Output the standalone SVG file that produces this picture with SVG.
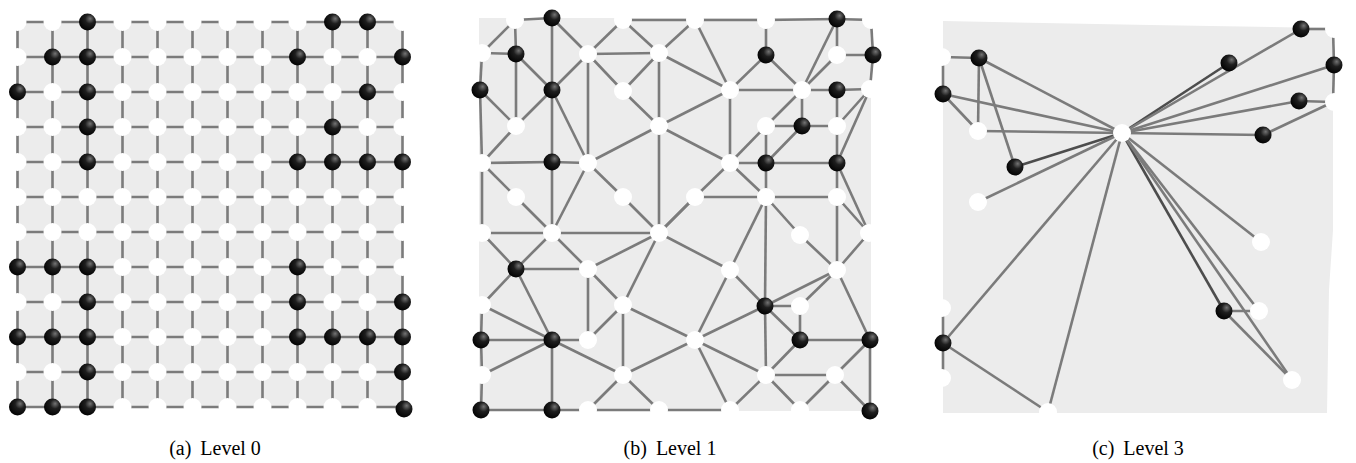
<svg xmlns="http://www.w3.org/2000/svg" width="1356" height="463" viewBox="0 0 1356 463">
<style>
.bg{fill:#ececec}
.e path{stroke:#7b7b7b;stroke-width:2.6;fill:none}
.e path.d{stroke:#4d4d4d}
.w{fill:#fff}
.k{fill:url(#sph)}
text{font-family:"Liberation Serif","Times New Roman",serif;font-size:20px;fill:#000}
</style>
<defs>
<radialGradient id="sph" cx="0.62" cy="0.36" r="0.7" fx="0.66" fy="0.3">
<stop offset="0" stop-color="#747474"/>
<stop offset="0.4" stop-color="#1e1e1e"/>
<stop offset="1" stop-color="#000"/>
</radialGradient>
</defs>
<rect class="bg" x="17.5" y="22" width="385" height="385"/>
<rect class="bg" x="479" y="18" width="392" height="393"/>
<polygon class="bg" points="943,21 1150,25 1327,28 1333,40 1333,230 1329,290 1327,413 1200,413 943,413"/>
<g id="connectors-a" class="e">
<path d="M17.5 22H402.5M17.5 57H402.5M17.5 92H402.5M17.5 127H402.5M17.5 162H402.5M17.5 197H402.5M17.5 232H402.5M17.5 267H402.5M17.5 302H402.5M17.5 337H402.5M17.5 372H402.5M17.5 407H402.5"/>
<path d="M17.5 22V407M52.5 22V407M87.5 22V407M122.5 22V407M157.5 22V407M192.5 22V407M227.5 22V407M262.5 22V407M297.5 22V407M332.5 22V407M367.5 22V407M402.5 22V407"/>
</g>
<g id="connectors-b" class="e">
<path d="M515 20L552 18"/><path d="M515 20L482 53"/><path d="M515 20L516 54"/><path d="M552 18L552 90"/><path d="M552 90L552 162"/><path d="M552 162L552 233"/><path d="M552 340L552 410"/>
<path d="M552 18L588 54"/><path d="M588 54L623 20"/><path d="M623 20L659 53"/><path d="M482 53L516 54"/><path d="M516 54L552 90"/><path d="M516 54L516 126"/><path d="M482 53L480 90"/>
<path d="M552 90L588 54"/><path d="M588 54L659 53"/><path d="M588 54L623 91"/><path d="M588 54L588 163"/><path d="M623 91L659 53"/><path d="M659 53L659 126"/><path d="M623 91L659 126"/>
<path d="M480 90L516 126"/><path d="M480 90L482 163"/><path d="M516 126L552 90"/><path d="M552 90L588 163"/><path d="M516 126L482 163"/><path d="M659 126L588 163"/><path d="M659 126L659 233"/>
<path d="M482 163L552 162"/><path d="M552 162L588 163"/><path d="M482 163L516 197"/><path d="M482 163L482 233"/><path d="M588 163L552 233"/><path d="M588 163L623 197"/><path d="M516 197L552 233"/>
<path d="M623 197L659 233"/><path d="M659 233L695 197"/><path d="M482 233L552 233"/><path d="M552 233L659 233"/><path d="M482 233L516 269"/><path d="M552 233L516 269"/><path d="M552 233L588 269"/>
<path d="M659 233L588 269"/><path d="M659 233L623 305"/><path d="M516 269L588 269"/><path d="M516 269L482 305"/><path d="M516 269L552 340"/><path d="M588 269L588 340"/><path d="M588 269L623 305"/>
<path d="M482 305L552 340"/><path d="M482 305L481 340"/><path d="M481 340L552 340"/><path d="M552 340L588 340"/><path d="M623 305L588 340"/><path d="M623 305L623 375"/><path d="M623 305L695 340"/>
<path d="M552 340L623 375"/><path d="M482 375L552 340"/><path d="M481 340L482 375"/><path d="M482 375L481 410"/><path d="M623 375L588 410"/><path d="M623 375L659 410"/><path d="M623 375L695 340"/>
<path d="M481 410L552 410"/><path d="M552 410L588 410"/><path d="M588 410L659 410"/><path d="M659 410L730 410"/>
<path d="M623 20L695 20"/><path d="M695 20L766 20"/><path d="M766 20L837 19"/><path d="M837 19L871 20"/><path d="M871 20L873 55"/><path d="M873 55L870 89"/>
<path d="M695 20L659 53"/><path d="M695 20L730 90"/><path d="M766 20L766 55"/><path d="M837 19L802 90"/><path d="M837 19L837 55"/><path d="M837 55L802 90"/><path d="M837 55L873 55"/>
<path d="M766 55L730 90"/><path d="M766 55L802 90"/><path d="M659 53L730 90"/><path d="M730 90L802 90"/><path d="M802 90L837 90"/><path d="M837 90L870 89"/><path d="M837 90L837 163"/>
<path d="M802 90L802 126"/><path d="M802 90L766 126"/><path d="M730 90L730 163"/><path d="M730 90L659 126"/><path d="M659 126L730 163"/><path d="M766 126L802 126"/><path d="M802 126L837 126"/>
<path d="M766 126L730 163"/><path d="M766 126L766 163"/><path d="M802 126L766 163"/><path d="M870 89L837 126"/><path d="M870 89L837 163"/><path d="M730 163L766 163"/><path d="M766 163L837 163"/>
<path d="M730 163L695 197"/><path d="M730 163L766 197"/><path d="M695 197L766 197"/><path d="M766 197L837 197"/><path d="M837 163L837 197"/><path d="M837 163L869 233"/><path d="M766 163L766 197"/>
<path d="M695 197L659 233"/><path d="M766 197L730 270"/><path d="M766 197L765 306"/><path d="M765 306L766 375"/><path d="M766 197L800 235"/><path d="M837 197L837 270"/><path d="M837 197L869 233"/>
<path d="M659 233L730 270"/><path d="M800 235L837 270"/><path d="M869 233L837 270"/><path d="M730 270L765 306"/><path d="M730 270L695 340"/><path d="M837 270L765 306"/><path d="M837 270L800 306"/>
<path d="M837 270L870 340"/><path d="M765 306L800 306"/><path d="M800 306L800 340"/><path d="M765 306L800 340"/><path d="M695 340L765 306"/><path d="M800 340L870 340"/><path d="M695 340L766 375"/>
<path d="M695 340L730 410"/><path d="M800 340L766 375"/><path d="M766 375L835 375"/><path d="M870 340L835 375"/><path d="M870 340L870 411"/><path d="M835 375L870 411"/><path d="M835 375L800 410"/>
<path d="M766 375L800 410"/><path d="M766 375L730 410"/>
</g>
<g id="connectors-c" class="e">
<path d="M943 57L979 58"/><path d="M943 57L943 94"/><path d="M979 58L978 131"/><path d="M979 58L1015 167"/><path d="M979 58L1122 133"/><path d="M943 94L978 131"/><path d="M943 94L1122 133"/>
<path d="M978 131L1122 133"/><path class="d" d="M1015 167L1122 133"/><path d="M978 202L1122 133"/><path class="d" d="M1122 133L1229 63"/><path d="M1122 133L1301 29"/><path d="M1122 133L1334 65"/><path d="M1122 133L1299 101"/>
<path d="M1122 133L1263 135"/><path d="M1301 29L1333 29"/><path d="M1333 29L1334 65"/><path d="M1334 65L1333 102"/><path d="M1299 101L1333 102"/><path d="M1263 135L1333 102"/>
<path d="M1122 133L1261 242"/><path class="d" d="M1122 133L1224 311"/><path d="M1122 133L1259 311"/><path d="M1122 133L1292 380"/><path d="M1224 311L1259 311"/><path d="M1224 311L1292 380"/>
<path d="M1122 133L943 343"/><path d="M1122 133L1048 412"/><path d="M943 343L1048 412"/><path d="M943 308L943 343"/><path d="M943 343L943 378"/>
</g>
<g id="nodes-a">
<g id="a0-0"><circle class="w" cx="17.5" cy="22" r="9"/></g><g id="a0-1"><circle class="w" cx="52.5" cy="22" r="9"/></g><g id="a0-2"><circle class="k" cx="87.5" cy="22" r="8.5"/></g><g id="a0-3"><circle class="w" cx="122.5" cy="22" r="9"/></g><g id="a0-4"><circle class="w" cx="157.5" cy="22" r="9"/></g><g id="a0-5"><circle class="w" cx="192.5" cy="22" r="9"/></g><g id="a0-6"><circle class="w" cx="227.5" cy="22" r="9"/></g><g id="a0-7"><circle class="w" cx="262.5" cy="22" r="9"/></g><g id="a0-8"><circle class="w" cx="297.5" cy="22" r="9"/></g><g id="a0-9"><circle class="k" cx="332.5" cy="22" r="8.5"/></g><g id="a0-10"><circle class="k" cx="367.5" cy="22" r="8.5"/></g><g id="a0-11"><circle class="w" cx="402.5" cy="22" r="9"/></g>
<g id="a1-0"><circle class="w" cx="17.5" cy="57" r="9"/></g><g id="a1-1"><circle class="k" cx="52.5" cy="57" r="8.5"/></g><g id="a1-2"><circle class="k" cx="87.5" cy="57" r="8.5"/></g><g id="a1-3"><circle class="w" cx="122.5" cy="57" r="9"/></g><g id="a1-4"><circle class="w" cx="157.5" cy="57" r="9"/></g><g id="a1-5"><circle class="w" cx="192.5" cy="57" r="9"/></g><g id="a1-6"><circle class="w" cx="227.5" cy="57" r="9"/></g><g id="a1-7"><circle class="w" cx="262.5" cy="57" r="9"/></g><g id="a1-8"><circle class="k" cx="297.5" cy="57" r="8.5"/></g><g id="a1-9"><circle class="w" cx="332.5" cy="57" r="9"/></g><g id="a1-10"><circle class="w" cx="367.5" cy="57" r="9"/></g><g id="a1-11"><circle class="k" cx="402.5" cy="57" r="8.5"/></g>
<g id="a2-0"><circle class="k" cx="17.5" cy="92" r="8.5"/></g><g id="a2-1"><circle class="w" cx="52.5" cy="92" r="9"/></g><g id="a2-2"><circle class="k" cx="87.5" cy="92" r="8.5"/></g><g id="a2-3"><circle class="w" cx="122.5" cy="92" r="9"/></g><g id="a2-4"><circle class="w" cx="157.5" cy="92" r="9"/></g><g id="a2-5"><circle class="w" cx="192.5" cy="92" r="9"/></g><g id="a2-6"><circle class="w" cx="227.5" cy="92" r="9"/></g><g id="a2-7"><circle class="w" cx="262.5" cy="92" r="9"/></g><g id="a2-8"><circle class="w" cx="297.5" cy="92" r="9"/></g><g id="a2-9"><circle class="w" cx="332.5" cy="92" r="9"/></g><g id="a2-10"><circle class="k" cx="367.5" cy="92" r="8.5"/></g><g id="a2-11"><circle class="w" cx="402.5" cy="92" r="9"/></g>
<g id="a3-0"><circle class="w" cx="17.5" cy="127" r="9"/></g><g id="a3-1"><circle class="w" cx="52.5" cy="127" r="9"/></g><g id="a3-2"><circle class="k" cx="87.5" cy="127" r="8.5"/></g><g id="a3-3"><circle class="w" cx="122.5" cy="127" r="9"/></g><g id="a3-4"><circle class="w" cx="157.5" cy="127" r="9"/></g><g id="a3-5"><circle class="w" cx="192.5" cy="127" r="9"/></g><g id="a3-6"><circle class="w" cx="227.5" cy="127" r="9"/></g><g id="a3-7"><circle class="w" cx="262.5" cy="127" r="9"/></g><g id="a3-8"><circle class="w" cx="297.5" cy="127" r="9"/></g><g id="a3-9"><circle class="k" cx="332.5" cy="127" r="8.5"/></g><g id="a3-10"><circle class="w" cx="367.5" cy="127" r="9"/></g><g id="a3-11"><circle class="w" cx="402.5" cy="127" r="9"/></g>
<g id="a4-0"><circle class="w" cx="17.5" cy="162" r="9"/></g><g id="a4-1"><circle class="w" cx="52.5" cy="162" r="9"/></g><g id="a4-2"><circle class="k" cx="87.5" cy="162" r="8.5"/></g><g id="a4-3"><circle class="w" cx="122.5" cy="162" r="9"/></g><g id="a4-4"><circle class="w" cx="157.5" cy="162" r="9"/></g><g id="a4-5"><circle class="w" cx="192.5" cy="162" r="9"/></g><g id="a4-6"><circle class="w" cx="227.5" cy="162" r="9"/></g><g id="a4-7"><circle class="w" cx="262.5" cy="162" r="9"/></g><g id="a4-8"><circle class="k" cx="297.5" cy="162" r="8.5"/></g><g id="a4-9"><circle class="k" cx="332.5" cy="162" r="8.5"/></g><g id="a4-10"><circle class="k" cx="367.5" cy="162" r="8.5"/></g><g id="a4-11"><circle class="k" cx="402.5" cy="162" r="8.5"/></g>
<g id="a5-0"><circle class="w" cx="17.5" cy="197" r="9"/></g><g id="a5-1"><circle class="w" cx="52.5" cy="197" r="9"/></g><g id="a5-2"><circle class="w" cx="87.5" cy="197" r="9"/></g><g id="a5-3"><circle class="w" cx="122.5" cy="197" r="9"/></g><g id="a5-4"><circle class="w" cx="157.5" cy="197" r="9"/></g><g id="a5-5"><circle class="w" cx="192.5" cy="197" r="9"/></g><g id="a5-6"><circle class="w" cx="227.5" cy="197" r="9"/></g><g id="a5-7"><circle class="w" cx="262.5" cy="197" r="9"/></g><g id="a5-8"><circle class="w" cx="297.5" cy="197" r="9"/></g><g id="a5-9"><circle class="w" cx="332.5" cy="197" r="9"/></g><g id="a5-10"><circle class="w" cx="367.5" cy="197" r="9"/></g><g id="a5-11"><circle class="w" cx="402.5" cy="197" r="9"/></g>
<g id="a6-0"><circle class="w" cx="17.5" cy="232" r="9"/></g><g id="a6-1"><circle class="w" cx="52.5" cy="232" r="9"/></g><g id="a6-2"><circle class="w" cx="87.5" cy="232" r="9"/></g><g id="a6-3"><circle class="w" cx="122.5" cy="232" r="9"/></g><g id="a6-4"><circle class="w" cx="157.5" cy="232" r="9"/></g><g id="a6-5"><circle class="w" cx="192.5" cy="232" r="9"/></g><g id="a6-6"><circle class="w" cx="227.5" cy="232" r="9"/></g><g id="a6-7"><circle class="w" cx="262.5" cy="232" r="9"/></g><g id="a6-8"><circle class="w" cx="297.5" cy="232" r="9"/></g><g id="a6-9"><circle class="w" cx="332.5" cy="232" r="9"/></g><g id="a6-10"><circle class="w" cx="367.5" cy="232" r="9"/></g><g id="a6-11"><circle class="w" cx="402.5" cy="232" r="9"/></g>
<g id="a7-0"><circle class="k" cx="17.5" cy="267" r="8.5"/></g><g id="a7-1"><circle class="k" cx="52.5" cy="267" r="8.5"/></g><g id="a7-2"><circle class="k" cx="87.5" cy="267" r="8.5"/></g><g id="a7-3"><circle class="w" cx="122.5" cy="267" r="9"/></g><g id="a7-4"><circle class="w" cx="157.5" cy="267" r="9"/></g><g id="a7-5"><circle class="w" cx="192.5" cy="267" r="9"/></g><g id="a7-6"><circle class="w" cx="227.5" cy="267" r="9"/></g><g id="a7-7"><circle class="w" cx="262.5" cy="267" r="9"/></g><g id="a7-8"><circle class="k" cx="297.5" cy="267" r="8.5"/></g><g id="a7-9"><circle class="w" cx="332.5" cy="267" r="9"/></g><g id="a7-10"><circle class="w" cx="367.5" cy="267" r="9"/></g><g id="a7-11"><circle class="w" cx="402.5" cy="267" r="9"/></g>
<g id="a8-0"><circle class="w" cx="17.5" cy="302" r="9"/></g><g id="a8-1"><circle class="w" cx="52.5" cy="302" r="9"/></g><g id="a8-2"><circle class="k" cx="87.5" cy="302" r="8.5"/></g><g id="a8-3"><circle class="w" cx="122.5" cy="302" r="9"/></g><g id="a8-4"><circle class="w" cx="157.5" cy="302" r="9"/></g><g id="a8-5"><circle class="w" cx="192.5" cy="302" r="9"/></g><g id="a8-6"><circle class="w" cx="227.5" cy="302" r="9"/></g><g id="a8-7"><circle class="w" cx="262.5" cy="302" r="9"/></g><g id="a8-8"><circle class="k" cx="297.5" cy="302" r="8.5"/></g><g id="a8-9"><circle class="w" cx="332.5" cy="302" r="9"/></g><g id="a8-10"><circle class="w" cx="367.5" cy="302" r="9"/></g><g id="a8-11"><circle class="k" cx="402.5" cy="302" r="8.5"/></g>
<g id="a9-0"><circle class="k" cx="17.5" cy="337" r="8.5"/></g><g id="a9-1"><circle class="k" cx="52.5" cy="337" r="8.5"/></g><g id="a9-2"><circle class="k" cx="87.5" cy="337" r="8.5"/></g><g id="a9-3"><circle class="w" cx="122.5" cy="337" r="9"/></g><g id="a9-4"><circle class="w" cx="157.5" cy="337" r="9"/></g><g id="a9-5"><circle class="w" cx="192.5" cy="337" r="9"/></g><g id="a9-6"><circle class="w" cx="227.5" cy="337" r="9"/></g><g id="a9-7"><circle class="w" cx="262.5" cy="337" r="9"/></g><g id="a9-8"><circle class="k" cx="297.5" cy="337" r="8.5"/></g><g id="a9-9"><circle class="k" cx="332.5" cy="337" r="8.5"/></g><g id="a9-10"><circle class="k" cx="367.5" cy="337" r="8.5"/></g><g id="a9-11"><circle class="k" cx="402.5" cy="337" r="8.5"/></g>
<g id="a10-0"><circle class="w" cx="17.5" cy="372" r="9"/></g><g id="a10-1"><circle class="w" cx="52.5" cy="372" r="9"/></g><g id="a10-2"><circle class="k" cx="87.5" cy="372" r="8.5"/></g><g id="a10-3"><circle class="w" cx="122.5" cy="372" r="9"/></g><g id="a10-4"><circle class="w" cx="157.5" cy="372" r="9"/></g><g id="a10-5"><circle class="w" cx="192.5" cy="372" r="9"/></g><g id="a10-6"><circle class="w" cx="227.5" cy="372" r="9"/></g><g id="a10-7"><circle class="w" cx="262.5" cy="372" r="9"/></g><g id="a10-8"><circle class="w" cx="297.5" cy="372" r="9"/></g><g id="a10-9"><circle class="w" cx="332.5" cy="372" r="9"/></g><g id="a10-10"><circle class="w" cx="367.5" cy="372" r="9"/></g><g id="a10-11"><circle class="k" cx="402.5" cy="372" r="8.5"/></g>
<g id="a11-0"><circle class="k" cx="17.5" cy="407" r="8.5"/></g><g id="a11-1"><circle class="k" cx="52.5" cy="407" r="8.5"/></g><g id="a11-2"><circle class="k" cx="87.5" cy="407" r="8.5"/></g><g id="a11-3"><circle class="w" cx="122.5" cy="407" r="9"/></g><g id="a11-4"><circle class="w" cx="157.5" cy="407" r="9"/></g><g id="a11-5"><circle class="w" cx="192.5" cy="407" r="9"/></g><g id="a11-6"><circle class="w" cx="227.5" cy="407" r="9"/></g><g id="a11-7"><circle class="w" cx="262.5" cy="407" r="9"/></g><g id="a11-8"><circle class="w" cx="297.5" cy="407" r="9"/></g><g id="a11-9"><circle class="w" cx="332.5" cy="407" r="9"/></g><g id="a11-10"><circle class="w" cx="367.5" cy="407" r="9"/></g><g id="a11-11"><circle class="k" cx="404" cy="409" r="8.5"/></g>
</g>
<g id="nodes-b">
<g id="b1"><circle class="w" cx="515" cy="20" r="9"/></g><g id="b2"><circle class="k" cx="552" cy="18" r="8.5"/></g><g id="b3"><circle class="w" cx="623" cy="20" r="9"/></g><g id="b4"><circle class="w" cx="695" cy="20" r="9"/></g><g id="b5"><circle class="w" cx="766" cy="20" r="9"/></g><g id="b6"><circle class="k" cx="837" cy="19" r="8.5"/></g><g id="b7"><circle class="w" cx="871" cy="20" r="9"/></g>
<g id="b8"><circle class="w" cx="482" cy="53" r="9"/></g><g id="b9"><circle class="k" cx="516" cy="54" r="8.5"/></g><g id="b10"><circle class="w" cx="588" cy="54" r="9"/></g><g id="b11"><circle class="w" cx="659" cy="53" r="9"/></g><g id="b12"><circle class="k" cx="766" cy="55" r="8.5"/></g><g id="b13"><circle class="w" cx="837" cy="55" r="9"/></g><g id="b14"><circle class="k" cx="873" cy="55" r="8.5"/></g>
<g id="b15"><circle class="k" cx="480" cy="90" r="8.5"/></g><g id="b16"><circle class="k" cx="552" cy="90" r="8.5"/></g><g id="b17"><circle class="w" cx="623" cy="91" r="9"/></g><g id="b18"><circle class="w" cx="730" cy="90" r="9"/></g><g id="b19"><circle class="w" cx="802" cy="90" r="9"/></g><g id="b20"><circle class="k" cx="837" cy="90" r="8.5"/></g><g id="b21"><circle class="w" cx="870" cy="89" r="9"/></g>
<g id="b22"><circle class="w" cx="516" cy="126" r="9"/></g><g id="b23"><circle class="w" cx="659" cy="126" r="9"/></g><g id="b24"><circle class="w" cx="766" cy="126" r="9"/></g><g id="b25"><circle class="k" cx="802" cy="126" r="8.5"/></g><g id="b26"><circle class="w" cx="837" cy="126" r="9"/></g>
<g id="b27"><circle class="w" cx="482" cy="163" r="9"/></g><g id="b28"><circle class="k" cx="552" cy="162" r="8.5"/></g><g id="b29"><circle class="w" cx="588" cy="163" r="9"/></g><g id="b30"><circle class="w" cx="730" cy="163" r="9"/></g><g id="b31"><circle class="k" cx="766" cy="163" r="8.5"/></g><g id="b32"><circle class="k" cx="837" cy="163" r="8.5"/></g>
<g id="b33"><circle class="w" cx="516" cy="197" r="9"/></g><g id="b34"><circle class="w" cx="623" cy="197" r="9"/></g><g id="b35"><circle class="w" cx="695" cy="197" r="9"/></g><g id="b36"><circle class="w" cx="766" cy="197" r="9"/></g><g id="b37"><circle class="w" cx="837" cy="197" r="9"/></g>
<g id="b38"><circle class="w" cx="482" cy="233" r="9"/></g><g id="b39"><circle class="w" cx="552" cy="233" r="9"/></g><g id="b40"><circle class="w" cx="659" cy="233" r="9"/></g><g id="b41"><circle class="w" cx="800" cy="235" r="9"/></g><g id="b42"><circle class="w" cx="869" cy="233" r="9"/></g>
<g id="b43"><circle class="k" cx="516" cy="269" r="8.5"/></g><g id="b44"><circle class="w" cx="588" cy="269" r="9"/></g><g id="b45"><circle class="w" cx="730" cy="270" r="9"/></g><g id="b46"><circle class="w" cx="837" cy="270" r="9"/></g>
<g id="b47"><circle class="w" cx="482" cy="305" r="9"/></g><g id="b48"><circle class="w" cx="623" cy="305" r="9"/></g><g id="b49"><circle class="k" cx="765" cy="306" r="8.5"/></g><g id="b50"><circle class="w" cx="800" cy="306" r="9"/></g>
<g id="b51"><circle class="k" cx="481" cy="340" r="8.5"/></g><g id="b52"><circle class="k" cx="552" cy="340" r="8.5"/></g><g id="b53"><circle class="w" cx="588" cy="340" r="9"/></g><g id="b54"><circle class="w" cx="695" cy="340" r="9"/></g><g id="b55"><circle class="k" cx="800" cy="340" r="8.5"/></g><g id="b56"><circle class="k" cx="870" cy="340" r="8.5"/></g>
<g id="b57"><circle class="w" cx="482" cy="375" r="9"/></g><g id="b58"><circle class="w" cx="623" cy="375" r="9"/></g><g id="b59"><circle class="w" cx="766" cy="375" r="9"/></g><g id="b60"><circle class="w" cx="835" cy="375" r="9"/></g>
<g id="b61"><circle class="k" cx="481" cy="410" r="8.5"/></g><g id="b62"><circle class="k" cx="552" cy="410" r="8.5"/></g><g id="b63"><circle class="w" cx="588" cy="410" r="9"/></g><g id="b64"><circle class="w" cx="659" cy="410" r="9"/></g><g id="b65"><circle class="w" cx="730" cy="410" r="9"/></g><g id="b66"><circle class="w" cx="800" cy="410" r="9"/></g><g id="b67"><circle class="k" cx="870" cy="411" r="8.5"/></g>
</g>
<g id="nodes-c">
<g id="c1"><circle class="w" cx="942" cy="57" r="9"/></g><g id="c2"><circle class="k" cx="979" cy="58" r="8.5"/></g><g id="c3"><circle class="k" cx="943" cy="94" r="8.5"/></g><g id="c4"><circle class="w" cx="978" cy="131" r="9"/></g><g id="c5"><circle class="w" cx="1122" cy="133" r="9"/></g><g id="c6"><circle class="k" cx="1015" cy="167" r="8.5"/></g><g id="c7"><circle class="w" cx="978" cy="202" r="9"/></g>
<g id="c8"><circle class="k" cx="1301" cy="29" r="8.5"/></g><g id="c9"><circle class="w" cx="1334" cy="29" r="9"/></g><g id="c10"><circle class="k" cx="1229" cy="63" r="8.5"/></g><g id="c11"><circle class="k" cx="1334" cy="65" r="8.5"/></g><g id="c12"><circle class="k" cx="1299" cy="101" r="8.5"/></g><g id="c13"><circle class="w" cx="1334" cy="102" r="9"/></g><g id="c14"><circle class="k" cx="1263" cy="135" r="8.5"/></g>
<g id="c15"><circle class="w" cx="1261" cy="242" r="9"/></g><g id="c16"><circle class="k" cx="1224" cy="311" r="8.5"/></g><g id="c17"><circle class="w" cx="1259" cy="311" r="9"/></g><g id="c18"><circle class="w" cx="1292" cy="380" r="9"/></g>
<g id="c19"><circle class="w" cx="942" cy="308" r="9"/></g><g id="c20"><circle class="k" cx="943" cy="343" r="8.5"/></g><g id="c21"><circle class="w" cx="942" cy="378" r="9"/></g><g id="c22"><circle class="w" cx="1048" cy="412" r="9"/></g>
</g>
<g id="captions">
<text x="215" y="455" text-anchor="middle">(a)<tspan dx="9">Level 0</tspan></text>
<text x="670" y="455" text-anchor="middle">(b)<tspan dx="9">Level 1</tspan></text>
<text x="1138" y="455" text-anchor="middle">(c)<tspan dx="9">Level 3</tspan></text>
</g>
</svg>
